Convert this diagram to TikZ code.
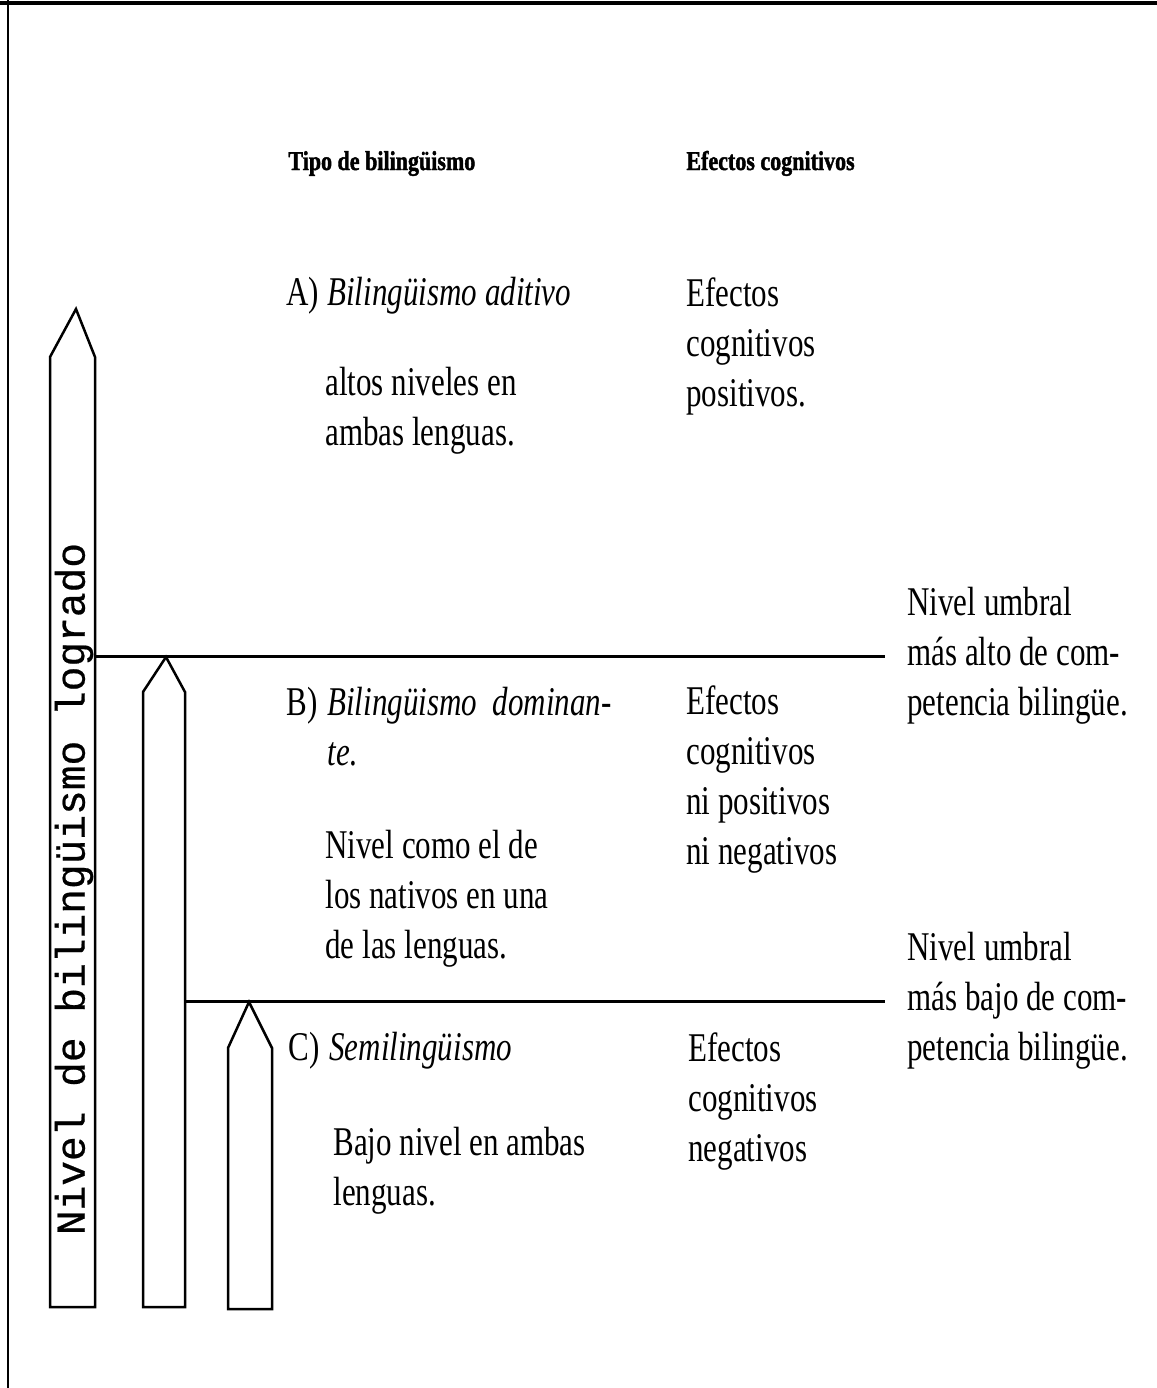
\documentclass[tikz,border=0pt]{standalone}
\usepackage{fontspec}
\setmainfont{Liberation Serif}[FakeStretch=0.76]
\newfontfamily\barfont{Liberation Mono}[FakeBold=0.5]
\newfontfamily\headfont{Liberation Serif}[FakeStretch=0.81, FakeBold=1.5]
\usepackage{tikz}
\tikzset{
  bar/.style={draw, line width=1.25pt, line join=miter},
  level/.style={line width=1.5pt},
  body/.style={anchor=north west, inner sep=0pt, align=left, font=\fontsize{20.4pt}{25pt}\selectfont},
  umbral/.style={anchor=west, inner xsep=11pt, inner ysep=0pt, align=left, font=\fontsize{20.4pt}{25pt}\selectfont},
  head/.style={anchor=base west, inner sep=0pt, font=\headfont\bfseries\fontsize{13.6pt}{15pt}\selectfont}
}
\newcommand{\blbar}[7]{\coordinate (#1) at (#2,#6); \draw[bar] (#3,#7) -- (#3,#5) -- (#1) -- (#4,#5) -- (#4,#7) -- cycle;}

\begin{document}
\begin{tikzpicture}[x=0.5pt, y=-0.5pt]
\useasboundingbox (0,0) rectangle (1157,1388);
\draw[line width=2pt] (0,3) -- (1157,3);
\draw[line width=1pt] (8,0) -- (8,1388);

\blbar {tipA} {76} {50} {95} {357} {309} {1307};
\blbar {tipB} {166} {143} {185} {692} {657} {1307};
\blbar {tipC} {249} {228} {272} {1048} {1002} {1309};
\node (axis) [rotate=90, font=\barfont\fontsize{20.6pt}{22pt}\selectfont] at (74,889) {Nivel de bilingüismo logrado};

\node (hdType) [head] at (288,170) {Tipo de bilingüismo};
\node (hdEff) [head] at (686,170) {Efectos cognitivos};

\node (labA) [body] at (286,277) {A)};
\node (typA) [body] at (327,277) {\textit{Bilingüismo aditivo}};
\node (txtA) [body] at (325,367) {altos niveles en\\ambas lenguas.};
\node (efA) [body] at (686,277) {Efectos\\cognitivos\\positivos.};

\node (labB) [body] at (286,687) {B)};
\node (typB) [body] at (327,687) {\textit{Bilingüismo\ \ dominan-}\\\textit{te}.};
\node (txtB) [body] at (325,830) {Nivel como el de\\los nativos en una\\de las lenguas.};
\node (efB) [body] at (686,685) {Efectos\\cognitivos\\ni positivos\\ni negativos};

\node (labC) [body] at (288,1032) {C)};
\node (typC) [body] at (329,1032) {\textit{Semilingüismo}};
\node (txtC) [body] at (333,1127) {Bajo nivel en ambas\\lenguas.};
\node (efC) [body] at (688,1032) {Efectos\\cognitivos\\negativos};

\coordinate (lvlA) at (95,656);
\coordinate (lvlB) at (185,1001);
\node (umbralA) [umbral] at (885,656) {Nivel umbral\\más alto de com-\\petencia bilingüe.};
\node (umbralB) [umbral] at (885,1001) {Nivel umbral\\más bajo de com-\\petencia bilingüe.};
\draw[level] (lvlA) -- (umbralA.west);
\draw[level] (lvlB) -- (umbralB.west);
\end{tikzpicture}
\end{document}
